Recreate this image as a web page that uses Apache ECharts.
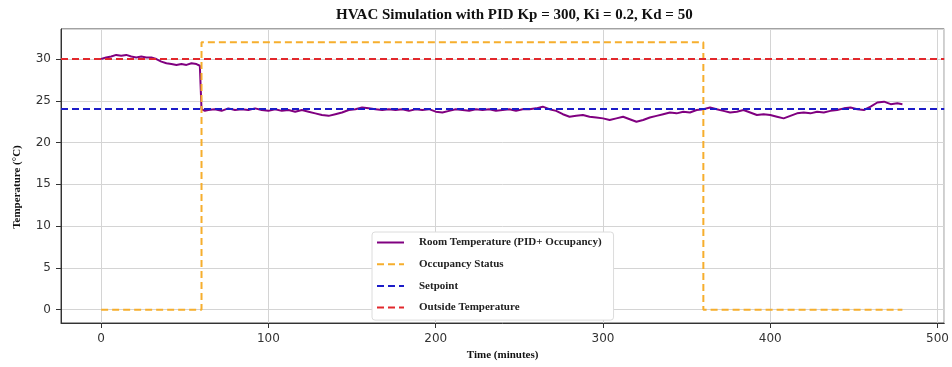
<!DOCTYPE html>
<html>
<head>
<meta charset="utf-8">
<script src="https://cdn.jsdelivr.net/npm/echarts@6/dist/echarts.min.js"></script>
<style>
  html, body { margin: 0; padding: 0; background: #fff; }
  #chart { width: 952px; height: 367px; }
</style>
</head>
<body>
<div id="chart"></div>
<script>
// Room temperature (minutes, °C)
const roomTime = [
  0, 3, 6, 9, 12, 15, 18, 21, 24, 27, 30, 33, 36, 39, 42, 45, 48, 51, 54, 57, 59,
  60, 62, 64, 68, 72, 76, 80, 84, 88, 92, 96, 100, 104, 108, 112, 116, 120, 124, 128,
  132, 136, 140, 144, 148, 152, 156, 160, 164, 168, 172, 176, 180, 184, 188, 192, 196,
  200, 204, 208, 212, 216, 220, 224, 228, 232, 236, 240, 244, 248, 252, 256, 260, 264,
  268, 272, 276, 280, 284, 288, 292, 296, 300, 304, 308, 312, 316, 320, 324, 328, 332,
  336, 340, 344, 348, 352, 356, 360, 364, 368, 372, 376, 380, 384, 388, 392, 396, 400,
  404, 408, 412, 416, 420, 424, 428, 432, 436, 440, 444, 448, 452, 456, 460, 464, 468,
  472, 476, 479
]
const roomTemp = [
  30.0, 30.2, 30.3, 30.5, 30.4, 30.5, 30.3, 30.2, 30.3, 30.2, 30.2, 30.0, 29.7, 29.5, 29.4, 29.3, 29.4, 29.3, 29.5, 29.4, 29.2,
  24.0, 23.8, 23.9, 24.0, 23.8, 24.1, 23.9, 24.0, 23.9, 24.1, 23.9, 23.8, 24.0, 23.8, 23.9, 23.7, 23.9, 23.7, 23.5,
  23.3, 23.2, 23.4, 23.6, 23.9, 24.0, 24.2, 24.1, 24.0, 23.9, 24.0, 23.9, 24.0, 23.8, 24.0, 23.9, 24.0,
  23.7, 23.6, 23.8, 24.0, 23.9, 23.8, 24.0, 23.9, 24.0, 23.8, 23.9, 24.0, 23.8, 24.0, 24.0, 24.1, 24.3,
  24.0, 23.8, 23.4, 23.1, 23.2, 23.3, 23.1, 23.0, 22.9, 22.7, 22.9, 23.1, 22.8, 22.5, 22.7, 23.0, 23.2,
  23.4, 23.6, 23.5, 23.7, 23.6, 23.9, 24.0, 24.2, 24.0, 23.8, 23.6, 23.7, 23.9, 23.6, 23.3, 23.4, 23.3,
  23.1, 22.9, 23.2, 23.5, 23.6, 23.5, 23.7, 23.6, 23.8, 23.9, 24.1, 24.2, 24.0, 23.9, 24.3, 24.8, 24.9,
  24.6, 24.7, 24.6
]

// Occupancy status (step line)
const occTime = [0, 60, 60, 360, 360, 479]
const occValue = [0, 0, 32, 32, 0, 0]

const SETPOINT = 24
const OUTSIDE_TEMP = 30

const COLOR_ROOM = '#800080'
const COLOR_OCC = '#f6ae2d'
const COLOR_SET = '#1c1cc8'
const COLOR_OUT = '#e2282c'

const SERIF = '"Liberation Serif", "DejaVu Serif", serif'
const SANS = '"DejaVu Sans", sans-serif'

const chart = echarts.init(document.getElementById('chart'))

chart.setOption({
  animation: false,
  backgroundColor: '#fff',
  title: {
    text: 'HVAC Simulation with PID Kp = 300, Ki = 0.2, Kd = 50',
    left: 331,
    top: 3,
    textStyle: { fontFamily: SERIF, fontWeight: 'bold', fontSize: 15, color: '#111' },
  },
  grid: {
    left: 61, right: 6, top: 29, bottom: 44,
    show: true, borderColor: '#444', borderWidth: 1,
  },
  legend: {
    orient: 'vertical',
    left: 372,
    top: 232,
    padding: [5, 12, 7, 4],
    itemWidth: 27,
    itemHeight: 10,
    itemGap: 10.7,
    backgroundColor: '#fff',
    borderColor: '#dcdcdc',
    borderWidth: 1,
    borderRadius: 3,
    itemStyle: { opacity: 0 },
    textStyle: { fontFamily: SERIF, fontWeight: 'bold', fontSize: 11, color: '#222', padding: [0, 0, 0, 10] },
    data: ['Room Temperature (PID+ Occupancy)', 'Occupancy Status', 'Setpoint', 'Outside Temperature'],
  },
  xAxis: {
    type: 'value',
    min: -24,
    max: 504,
    splitNumber: 5,
    name: 'Time (minutes)',
    nameLocation: 'middle',
    nameGap: 26,
    nameTextStyle: { fontFamily: SERIF, fontWeight: 'bold', fontSize: 11, color: '#111' },
    axisLine: { onZero: false, lineStyle: { color: '#333' } },
    axisTick: { show: true, length: 5, lineStyle: { color: '#333' } },
    axisLabel: { showMinLabel: false, showMaxLabel: false, margin: 10, fontFamily: SANS, fontSize: 12, color: '#333' },
    splitLine: { show: true, lineStyle: { color: '#d4d4d4' } },
  },
  yAxis: {
    type: 'value',
    min: -1.6,
    max: 33.6,
    splitNumber: 7,
    name: 'Temperature (°C)',
    nameLocation: 'middle',
    nameGap: 38,
    nameTextStyle: { fontFamily: SERIF, fontWeight: 'bold', fontSize: 11, color: '#111', padding: [0, 22, 0, 0] },
    axisLine: { show: true, onZero: false, lineStyle: { color: '#333' } },
    axisTick: { show: true, length: 5, lineStyle: { color: '#333' } },
    axisLabel: { showMinLabel: false, showMaxLabel: false, margin: 10, fontFamily: SANS, fontSize: 12, color: '#333' },
    splitLine: { show: true, lineStyle: { color: '#d4d4d4' } },
  },
  series: [
    {
      name: 'Room Temperature (PID+ Occupancy)',
      type: 'line',
      symbol: 'none',
      lineStyle: { color: COLOR_ROOM, width: 2 },
      itemStyle: { color: COLOR_ROOM },
      data: roomTime.map((t, i) => [t, roomTemp[i]]),
      z: 2,
    },
    {
      name: 'Occupancy Status',
      type: 'line',
      symbol: 'none',
      lineStyle: { color: COLOR_OCC, width: 2, type: [7, 4] },
      itemStyle: { color: COLOR_OCC },
      data: occTime.map((t, i) => [t, occValue[i]]),
      z: 3,
    },
    {
      name: 'Setpoint',
      type: 'line',
      symbol: 'none',
      lineStyle: { color: COLOR_SET, width: 2, type: [7, 4] },
      itemStyle: { color: COLOR_SET },
      data: [],
      markLine: {
        symbol: 'none',
        silent: true,
        label: { show: false },
        lineStyle: { color: COLOR_SET, width: 2, type: [7, 4] },
        data: [{ yAxis: SETPOINT }],
      },
      z: 4,
    },
    {
      name: 'Outside Temperature',
      type: 'line',
      symbol: 'none',
      lineStyle: { color: COLOR_OUT, width: 2, type: [7, 4] },
      itemStyle: { color: COLOR_OUT },
      data: [],
      markLine: {
        symbol: 'none',
        silent: true,
        label: { show: false },
        lineStyle: { color: COLOR_OUT, width: 2, type: [7, 4] },
        data: [{ yAxis: OUTSIDE_TEMP }],
      },
      z: 5,
    },
  ],
})
</script>
</body>
</html>
